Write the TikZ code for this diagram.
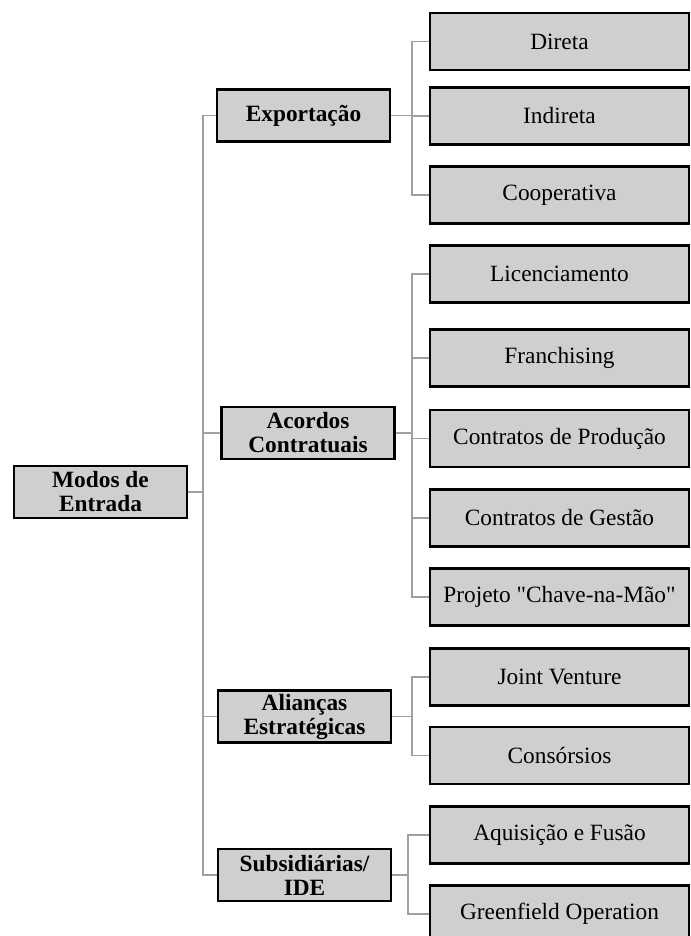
\documentclass[tikz,border=0pt]{standalone}
\usepackage{fontspec}
\setmainfont{Liberation Serif}[Ligatures=TeXOff]
\definecolor{boxfill}{RGB}{208,206,206}
\definecolor{linegray}{RGB}{160,160,160}
\tikzset{
  leaf/.style={draw=black, fill=boxfill, line width=1.9pt, minimum width=194pt, minimum height=42.5pt, inner sep=0pt, align=center, font=\fontsize{17.5}{18}\selectfont},
  mid/.style={draw=black, fill=boxfill, line width=1.9pt, minimum width=130pt, minimum height=39pt, inner sep=0pt, align=center, font=\fontsize{17.5}{18}\selectfont\bfseries},
  conn/.style={draw=linegray, line width=0.8pt}
}
\begin{document}
\begin{tikzpicture}[x=0.75pt, y=-0.75pt]
\useasboundingbox (0,0) rectangle (691,936);
\clip (0,0) rectangle (691,936);
% root
\node[mid] (root) at (100.5,492) {Modos de\\Entrada};
% mid level
\node[mid] (exp) at (303.5,115.5) {Exportação};
\node[mid] (aco) at (308,433) {Acordos\\Contratuais};
\node[mid] (ali) at (304.5,716.5) {Alianças\\Estratégicas};
\node[mid] (sub) at (304.5,875) {Subsidiárias/\\IDE};
% leaves
\node[leaf] (c1) at (559.5,41.5) {Direta};
\node[leaf] (c2) at (559.5,116) {Indireta};
\node[leaf] (c3) at (559.5,195) {Cooperativa};
\node[leaf] (c4) at (559.5,274) {Licenciamento};
\node[leaf] (c5) at (559.5,358) {Franchising};
\node[leaf] (c6) at (559.5,438.5) {Contratos de Produção};
\node[leaf] (c7) at (559.5,518) {Contratos de Gestão};
\node[leaf] (c8) at (559.5,597) {Projeto "Chave-na-Mão"};
\node[leaf] (c9) at (559.5,677) {Joint Venture};
\node[leaf] (c10) at (559.5,755.5) {Consórsios};
\node[leaf] (c11) at (559.5,835) {Aquisição e Fusão};
\node[leaf] (c12) at (559.5,914) {Greenfield Operation};
% trunk
\coordinate (t0) at (203,492);
\draw[conn] (root.east) -- (t0);
\draw[conn] (t0) |- (exp.west);
\draw[conn] (t0) |- (aco.west);
\draw[conn] (t0) |- (ali.west);
\draw[conn] (t0) |- (sub.west);
% spines
\coordinate (s1) at (412,115.5);
\coordinate (s2) at (412,433);
\coordinate (s3) at (412,716.5);
\coordinate (s4) at (408,875);
\draw[conn] (exp.east) -- (s1);
\draw[conn] (aco.east) -- (s2);
\draw[conn] (ali.east) -- (s3);
\draw[conn] (sub.east) -- (s4);
\foreach \c in {c1,c2,c3} \draw[conn] (s1) |- (\c.west);
\foreach \c in {c4,c5,c6,c7,c8} \draw[conn] (s2) |- (\c.west);
\foreach \c in {c9,c10} \draw[conn] (s3) |- (\c.west);
\foreach \c in {c11,c12} \draw[conn] (s4) |- (\c.west);
\end{tikzpicture}
\end{document}
